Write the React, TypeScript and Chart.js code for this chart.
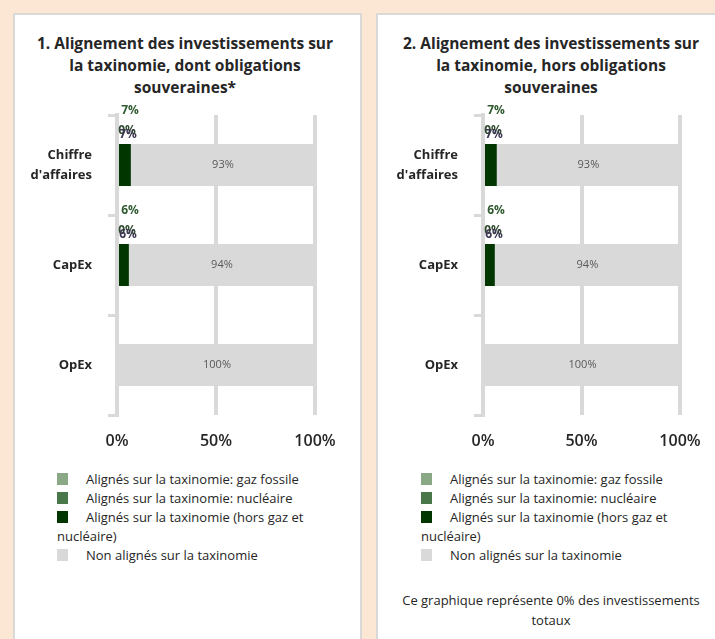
import React, { useEffect, useRef } from "react";
import { Chart, registerables } from "chart.js";

Chart.register(...registerables);

// ---------- data ----------
const categories: (string | string[])[] = [["Chiffre", "d'affaires"], "CapEx", "OpEx"];
const seriesNames = [
  "Alignés sur la taxinomie: gaz fossile",
  "Alignés sur la taxinomie: nucléaire",
  "Alignés sur la taxinomie (hors gaz et nucléaire)",
  "Non alignés sur la taxinomie",
];
const seriesColors = ["#8aa886", "#4a7749", "#013601", "#d9d9d9"];
const xTicks = [0, 50, 100];

const title1 = "1. Alignement des investissements sur la taxinomie, dont obligations souveraines*";
const title2 = "2. Alignement des investissements sur la taxinomie, hors obligations souveraines";
const footnote2 = "Ce graphique représente 0% des investissements totaux";

// chart 1 values (%)
const gas1 = [0, 0, 0];
const nuclear1 = [0, 0, 0];
const aligned1 = [7, 6, 0];
const nonAligned1 = [93, 94, 100];
const gasLabels1 = ["7%", "6%", ""];
const nuclearLabels1 = ["0%", "0%", ""];
const alignedLabels1 = ["7%", "6%", ""];
const nonAlignedLabels1 = ["93%", "94%", "100%"];

// chart 2 values (%)
const gas2 = [0, 0, 0];
const nuclear2 = [0, 0, 0];
const aligned2 = [7, 6, 0];
const nonAligned2 = [93, 94, 100];
const gasLabels2 = ["7%", "6%", ""];
const nuclearLabels2 = ["0%", "0%", ""];
const alignedLabels2 = ["7%", "6%", ""];
const nonAlignedLabels2 = ["93%", "94%", "100%"];

const FONT = "'Open Sans', 'DejaVu Sans', sans-serif";
const TEXT = "#262626";

Chart.defaults.font.family = FONT;

const segLabelsPlugin = {
  id: "segLabels",
  afterDatasetsDraw(chart: any, _args: any, opts: any) {
    const ctx = chart.ctx;
    const x0 = chart.scales.x.getPixelForValue(0);
    chart.data.datasets.forEach((_ds: any, di: number) => {
      const meta = chart.getDatasetMeta(di);
      const texts: string[] = opts.labels[di];
      meta.data.forEach((bar: any, i: number) => {
        const t = texts[i];
        if (!t) return;
        const p = bar.getProps(["x", "y", "base", "height"], true);
        const top = p.y - p.height / 2;
        ctx.save();
        ctx.textAlign = "center";
        ctx.textBaseline = "middle";
        if (di === 3) {
          ctx.font = `11px ${FONT}`;
          ctx.fillStyle = "#595959";
          ctx.fillText(t, (p.x + p.base) / 2, p.y);
        } else if (di === 0) {
          ctx.font = `bold 12px ${FONT}`;
          ctx.fillStyle = "#2f5a2f";
          ctx.fillText(t, x0 + 13, top - 33);
        } else if (di === 1) {
          ctx.font = `bold 12px ${FONT}`;
          ctx.fillStyle = "#2f4a2f";
          ctx.fillText(t, x0 + 10, top - 13);
        } else {
          ctx.font = `bold 12px ${FONT}`;
          ctx.fillStyle = "#3a3550";
          ctx.fillText(t, x0 + 11, top - 9);
        }
        ctx.restore();
      });
    });
  },
};

type BarProps = {
  width: number;
  height: number;
  yWidth: number;
  rightPad: number;
  values: number[][];
  labels: string[][];
};

function BarChart({ width, height, yWidth, rightPad, values, labels }: BarProps) {
  const ref = useRef<HTMLCanvasElement | null>(null);
  useEffect(() => {
    if (!ref.current) return;
    const chart = new Chart(ref.current, {
      type: "bar",
      data: {
        labels: categories as any,
        datasets: values.map((v, i) => ({
          label: seriesNames[i],
          data: v,
          backgroundColor: seriesColors[i],
          borderWidth: 0,
          barPercentage: 0.42,
          categoryPercentage: 1,
        })),
      },
      plugins: [segLabelsPlugin as any],
      options: {
        animation: false,
        responsive: false,
        maintainAspectRatio: false,
        indexAxis: "y",
        events: [],
        layout: { padding: { left: 0, right: rightPad, top: 15, bottom: 0 } },
        plugins: {
          legend: { display: false },
          tooltip: { enabled: false },
          title: { display: false },
          segLabels: { labels },
        } as any,
        scales: {
          x: {
            stacked: true,
            min: 0,
            max: 100,
            afterBuildTicks: (s: any) => {
              s.ticks = xTicks.map((v) => ({ value: v }));
            },
            afterFit: (s: any) => {
              s.height = 55;
              s.paddingLeft = 0;
              s.paddingRight = 0;
            },
            grid: { color: "#d9d9d9", lineWidth: 4, drawTicks: false },
            border: { display: false },
            ticks: {
              padding: 17,
              color: TEXT,
              font: { size: 16, weight: "600" as any },
              callback: (v: any) => `${v}%`,
            },
          },
          y: {
            stacked: true,
            afterFit: (s: any) => {
              s.width = yWidth;
              s.paddingTop = 0;
              s.paddingBottom = 0;
            },
            grid: {
              offset: true,
              drawOnChartArea: false,
              drawTicks: true,
              tickLength: 9,
              color: "#d9d9d9",
              lineWidth: 3,
            },
            border: { display: true, color: "#d9d9d9", width: 4 },
            ticks: {
              padding: 16,
              color: TEXT,
              font: { size: 13, weight: "bold", lineHeight: 1.55 },
            },
          },
        },
      },
    });
    return () => chart.destroy();
  }, []);
  return <canvas ref={ref} width={width} height={height} style={{ width, height, display: "block" }} />;
}

function Legend({ left, top }: { left: number; top: number }) {
  return (
    <div
      style={{
        position: "absolute",
        left,
        top,
        width: 272,
        fontFamily: FONT,
        fontSize: 13,
        lineHeight: "19px",
        color: TEXT,
      }}
    >
      {seriesNames.map((n, i) => (
        <div key={i}>
          <span
            style={{
              display: "inline-block",
              width: 11,
              height: 12,
              background: seriesColors[i],
              marginRight: 18,
              verticalAlign: "-1px",
            }}
          />
          {n}
        </div>
      ))}
    </div>
  );
}

function Title({ text, cx }: { text: string; cx: number }) {
  return (
    <div
      style={{
        position: "absolute",
        left: cx - 153,
        top: 32,
        width: 306,
        textAlign: "center",
        fontFamily: FONT,
        fontWeight: 700,
        fontSize: 15.5,
        lineHeight: "22px",
        color: TEXT,
      }}
    >
      {text}
    </div>
  );
}

export default function App() {
  return (
    <div
      style={{
        position: "fixed",
        left: 0,
        top: 0,
        width: 715,
        height: 639,
        overflow: "hidden",
        background: "#fce7d4",
      }}
    >
      <div
        style={{
          position: "absolute",
          left: 13,
          top: 13,
          width: 349,
          height: 660,
          background: "#fff",
          border: "2px solid #d9d9d9",
          boxSizing: "border-box",
        }}
      />
      <div
        style={{
          position: "absolute",
          left: 376,
          top: 13,
          width: 360,
          height: 660,
          background: "#fff",
          border: "2px solid #d9d9d9",
          boxSizing: "border-box",
        }}
      />
      <Title text={title1} cx={185} />
      <Title text={title2} cx={551} />
      <div style={{ position: "absolute", left: 13, top: 100 }}>
        <BarChart
          width={349}
          height={370}
          yWidth={104}
          rightPad={47}
          values={[gas1, nuclear1, aligned1, nonAligned1]}
          labels={[gasLabels1, nuclearLabels1, alignedLabels1, nonAlignedLabels1]}
        />
      </div>
      <div style={{ position: "absolute", left: 376, top: 100 }}>
        <BarChart
          width={339}
          height={370}
          yWidth={107}
          rightPad={35}
          values={[gas2, nuclear2, aligned2, nonAligned2]}
          labels={[gasLabels2, nuclearLabels2, alignedLabels2, nonAlignedLabels2]}
        />
      </div>
      <Legend left={57} top={470} />
      <Legend left={421} top={470} />
      <div
        style={{
          position: "absolute",
          left: 551 - 160,
          top: 590,
          width: 320,
          textAlign: "center",
          fontFamily: FONT,
          fontSize: 13,
          lineHeight: "20px",
          color: TEXT,
        }}
      >
        {footnote2}
      </div>
    </div>
  );
}
